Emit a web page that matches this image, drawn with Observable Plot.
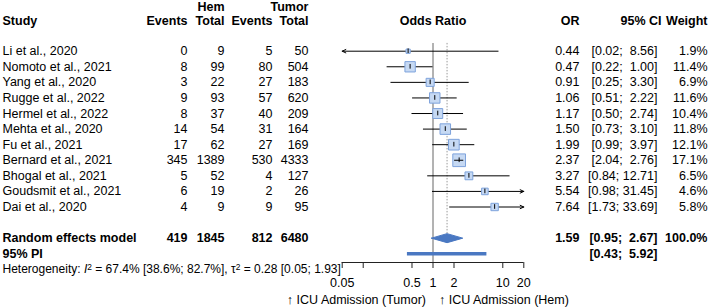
<!DOCTYPE html>
<html><head><meta charset="utf-8">
<script src="https://cdn.jsdelivr.net/npm/d3@7"></script>
<script src="https://cdn.jsdelivr.net/npm/@observablehq/plot@0.6"></script>
<style>body{margin:0;background:#fff}</style>
</head><body><div id="chart"></div>
<script>
// ---------- data ----------
const studies = ["Li et al., 2020","Nomoto et al., 2021","Yang et al., 2020","Rugge et al., 2022","Hermel et al., 2022","Mehta et al., 2020","Fu et al., 2021","Bernard et al., 2021","Bhogal et al., 2021","Goudsmit et al., 2021","Dai et al., 2020"];
const hemEvents = [0,8,3,9,8,14,17,345,5,6,4];
const hemTotal = [9,99,22,93,37,54,62,1389,52,19,9];
const tumorEvents = [5,80,27,57,40,31,27,530,4,2,9];
const tumorTotal = [50,504,183,620,209,164,169,4333,127,26,95];
const oddsRatio = [0.44,0.47,0.91,1.06,1.17,1.50,1.99,2.37,3.27,5.54,7.64];
const ciLower = [0.02,0.22,0.25,0.51,0.50,0.73,0.99,2.04,0.84,0.98,1.73];
const ciUpper = [8.56,1.00,3.30,2.22,2.74,3.10,3.97,2.76,12.71,31.45,33.69];
const weights = [1.9,11.4,6.9,11.6,10.4,11.8,12.1,17.1,6.5,4.6,5.8];

const pooledLabel = "Random effects model";
const pooledCounts = [419,1845,812,6480];
const pooledOR = 1.59, pooledLower = 0.95, pooledUpper = 2.67, pooledWeight = 100.0;
const piLabel = "95% PI";
const piLower = 0.43, piUpper = 5.92;
const hetI2 = [67.4, 38.6, 82.7];
const hetTau2 = [0.28, 0.05, 1.93];

const axisTicks = [0.05,0.1,0.5,1,2,10,20];
const axisTickLabels = ["0.05","","0.5","1","2","10","20"];
const groupHeaders = ["Hem","Tumor"];
const columnHeaders = ["Study","Events","Total","Events","Total","Odds Ratio","OR","95% CI","Weight"];
const favourLabels = ["\u2191 ICU Admission (Tumor)","\u2191 ICU Admission (Hem)"];

// ---------- layout ----------
const W = 708, H = 308;
const ML = 341.7, MR = W - 523.3, MT = 43, MB = 46;
const FS = 12.5;
const FONT = '"Liberation Sans", Arial, Helvetica, sans-serif';
const xMin = axisTicks[0], xMax = axisTicks[axisTicks.length - 1];
const COLX = {study: 2, hemEv: 187, hemTot: 224, tumEv: 272, tumTot: 308, or: 579, ci: 657, ciHead: 661, w: 707};
const dxOf = px => px - ML;
const ROW_TOP = 50.7, ROW_STEP = 15.58;

const rows = studies.map((s, k) => ({
  i: k + 1, study: s, he: hemEvents[k], ht: hemTotal[k], te: tumorEvents[k], tt: tumorTotal[k],
  or: oddsRatio[k], lo: ciLower[k], hi: ciUpper[k], w: weights[k]
}));
const RE_ROW = rows.length + 2, PI_ROW = RE_ROW + 1, HET_ROW = RE_ROW + 2;
const HDR2 = -0.92, HDR1 = -1.85, TICKLAB_ROW = 15.9, FAV_ROW = 16.95;
const AXIS_ROW = 1 + (H - MB - ROW_TOP) / ROW_STEP;   // row coordinate of the axis baseline
const TICK_LEN = 6 / ROW_STEP;

const ciText = (lo, hi) => "[" + lo.toFixed(2) + ";" + (hi < 10 ? "\u00a0\u00a0" : "\u00a0") + hi.toFixed(2) + "]";

const T = (data, opts) => Plot.text(data, {fontSize: FS, fill: "#000", frameAnchor: "left", ...opts});

const pooled = [{i: RE_ROW, label: pooledLabel, he: pooledCounts[0], ht: pooledCounts[1], te: pooledCounts[2], tt: pooledCounts[3],
  or: pooledOR, lo: pooledLower, hi: pooledUpper, w: pooledWeight}];
const pi = [{i: PI_ROW, label: piLabel, lo: piLower, hi: piUpper}];

const DH = 0.29; // diamond half height in rows
const diamond = [
  {x: pooledLower, y: RE_ROW}, {x: pooledOR, y: RE_ROW - DH}, {x: pooledUpper, y: RE_ROW},
  {x: pooledOR, y: RE_ROW + DH}, {x: pooledLower, y: RE_ROW}
];

const inRange = rows.filter(d => d.lo >= xMin && d.hi <= xMax);
const clipLeft = rows.filter(d => d.lo < xMin);
const clipRight = rows.filter(d => d.hi > xMax);
const narrow = rows.filter(d => Math.log10(d.hi / d.lo) < 0.15);
const tickData = axisTicks.map((v, k) => ({v, label: axisTickLabels[k]}));

const BLUE = "#4a78c2";

const plot = Plot.plot({
  width: W, height: H,
  marginLeft: ML, marginRight: MR, marginTop: MT, marginBottom: MB,
  style: {fontFamily: FONT, background: "#fff", overflow: "visible"},
  x: {type: "log", domain: [xMin, xMax], axis: null},
  y: {type: "linear", domain: [1, rows.length], range: [ROW_TOP, ROW_TOP + (rows.length - 1) * ROW_STEP], axis: null},
  r: {type: "sqrt", domain: [0, 100], range: [0, 17.32]},
  marks: [
    // reference lines
    Plot.ruleX([1], {stroke: "#666", strokeWidth: 1}),
    Plot.ruleX([pooledOR], {y1: 0.5, y2: RE_ROW - DH, stroke: "#999", strokeWidth: 1, strokeDasharray: "1.5,1.5"}),
    // CIs
    Plot.ruleY(inRange, {y: "i", x1: "lo", x2: "hi", stroke: "#000", strokeWidth: 1}),
    Plot.arrow(clipLeft, {x1: d => Math.min(d.hi, xMax), x2: xMin, y1: "i", y2: "i", stroke: "#000", strokeWidth: 1, headLength: 6, headAngle: 50}),
    Plot.arrow(clipRight, {x1: d => Math.max(d.lo, xMin), x2: xMax, y1: "i", y2: "i", stroke: "#000", strokeWidth: 1, headLength: 6, headAngle: 50}),
    // squares
    Plot.dot(rows, {x: "or", y: "i", r: "w", symbol: "square", fill: "#c6d9f3", stroke: "#7ea3dc", strokeWidth: 1}),
    Plot.ruleY(narrow, {y: "i", x1: "lo", x2: "hi", stroke: "#000", strokeWidth: 1}),
    Plot.ruleX(rows, {x: "or", y1: d => d.i - 0.15, y2: d => d.i + 0.15, stroke: "#000", strokeWidth: 1}),
    // pooled diamond & prediction interval
    Plot.line(diamond, {x: "x", y: "y", fill: BLUE, stroke: BLUE, strokeWidth: 1}),
    Plot.ruleY(pi, {y: "i", x1: "lo", x2: "hi", stroke: BLUE, strokeWidth: 3.5}),
    // axis: baseline, ticks, labels
    Plot.ruleY([AXIS_ROW], {x1: xMin, x2: xMax, stroke: "#222", strokeWidth: 1}),
    Plot.ruleX(tickData, {x: "v", y1: AXIS_ROW, y2: AXIS_ROW + TICK_LEN, stroke: "#222", strokeWidth: 1}),
    Plot.text(tickData, {x: "v", y: () => TICKLAB_ROW, text: "label", fontSize: FS, fill: "#000"}),
    Plot.text([favourLabels[0]], {x: () => 1, y: () => FAV_ROW, dx: -7, textAnchor: "end", fontSize: FS, fill: "#000"}),
    Plot.text([favourLabels[1]], {x: () => 1, y: () => FAV_ROW, dx: 6, textAnchor: "start", fontSize: FS, fill: "#000"}),
    // headers
    T([groupHeaders[0]], {y: () => HDR1, dx: dxOf(COLX.hemTot), textAnchor: "end", fontWeight: "bold"}),
    T([groupHeaders[1]], {y: () => HDR1, dx: dxOf(COLX.tumTot), textAnchor: "end", fontWeight: "bold"}),
    T([columnHeaders[0]], {y: () => HDR2, dx: dxOf(COLX.study), textAnchor: "start", fontWeight: "bold"}),
    T([columnHeaders[1]], {y: () => HDR2, dx: dxOf(COLX.hemEv), textAnchor: "end", fontWeight: "bold"}),
    T([columnHeaders[2]], {y: () => HDR2, dx: dxOf(COLX.hemTot), textAnchor: "end", fontWeight: "bold"}),
    T([columnHeaders[3]], {y: () => HDR2, dx: dxOf(COLX.tumEv), textAnchor: "end", fontWeight: "bold"}),
    T([columnHeaders[4]], {y: () => HDR2, dx: dxOf(COLX.tumTot), textAnchor: "end", fontWeight: "bold"}),
    Plot.text([columnHeaders[5]], {y: () => HDR2, frameAnchor: "middle", textAnchor: "middle", fontWeight: "bold", fontSize: FS, fill: "#000"}),
    T([columnHeaders[6]], {y: () => HDR2, dx: dxOf(COLX.or), textAnchor: "end", fontWeight: "bold"}),
    T([columnHeaders[7]], {y: () => HDR2, dx: dxOf(COLX.ciHead), textAnchor: "end", fontWeight: "bold"}),
    T([columnHeaders[8]], {y: () => HDR2, dx: dxOf(COLX.w), textAnchor: "end", fontWeight: "bold"}),
    // study rows
    T(rows, {y: "i", text: "study", dx: dxOf(COLX.study), textAnchor: "start"}),
    T(rows, {y: "i", text: d => String(d.he), dx: dxOf(COLX.hemEv), textAnchor: "end"}),
    T(rows, {y: "i", text: d => String(d.ht), dx: dxOf(COLX.hemTot), textAnchor: "end"}),
    T(rows, {y: "i", text: d => String(d.te), dx: dxOf(COLX.tumEv), textAnchor: "end"}),
    T(rows, {y: "i", text: d => String(d.tt), dx: dxOf(COLX.tumTot), textAnchor: "end"}),
    T(rows, {y: "i", text: d => d.or.toFixed(2), dx: dxOf(COLX.or), textAnchor: "end"}),
    T(rows, {y: "i", text: d => ciText(d.lo, d.hi), dx: dxOf(COLX.ci), textAnchor: "end"}),
    T(rows, {y: "i", text: d => d.w.toFixed(1) + "%", dx: dxOf(COLX.w), textAnchor: "end"}),
    // pooled row
    T(pooled, {y: "i", text: "label", dx: dxOf(COLX.study), textAnchor: "start", fontWeight: "bold"}),
    T(pooled, {y: "i", text: d => String(d.he), dx: dxOf(COLX.hemEv), textAnchor: "end", fontWeight: "bold"}),
    T(pooled, {y: "i", text: d => String(d.ht), dx: dxOf(COLX.hemTot), textAnchor: "end", fontWeight: "bold"}),
    T(pooled, {y: "i", text: d => String(d.te), dx: dxOf(COLX.tumEv), textAnchor: "end", fontWeight: "bold"}),
    T(pooled, {y: "i", text: d => String(d.tt), dx: dxOf(COLX.tumTot), textAnchor: "end", fontWeight: "bold"}),
    T(pooled, {y: "i", text: d => d.or.toFixed(2), dx: dxOf(COLX.or), textAnchor: "end", fontWeight: "bold"}),
    T(pooled, {y: "i", text: d => ciText(d.lo, d.hi), dx: dxOf(COLX.ci), textAnchor: "end", fontWeight: "bold"}),
    T(pooled, {y: "i", text: d => d.w.toFixed(1) + "%", dx: dxOf(COLX.w), textAnchor: "end", fontWeight: "bold"}),
    // prediction interval row
    T(pi, {y: "i", text: "label", dx: dxOf(COLX.study), textAnchor: "start", fontWeight: "bold"}),
    T(pi, {y: "i", text: d => ciText(d.lo, d.hi), dx: dxOf(COLX.ci), textAnchor: "end", fontWeight: "bold"}),
    // heterogeneity
    T(["het"], {y: () => HET_ROW, dx: dxOf(COLX.study), textAnchor: "start", fontSize: 12,
      text: () => `Heterogeneity: I\u00b2 = ${hetI2[0].toFixed(1)}% [${hetI2[1].toFixed(1)}%; ${hetI2[2].toFixed(1)}%], \u03c4\u00b2 = ${hetTau2[0].toFixed(2)} [${hetTau2[1].toFixed(2)}; ${hetTau2[2].toFixed(2)}]`})
  ]
});
document.getElementById("chart").appendChild(plot);

// rich text for heterogeneity line (italic I, superscripts)
d3.select(plot).selectAll("text").filter(function() { return this.textContent.startsWith("Heterogeneity"); })
  .each(function() {
    const t = d3.select(this);
    t.text(null);
    const parts = [
      ["Heterogeneity: ", {}], ["I", {style: "italic"}], ["2", {sup: true}],
      [` = ${hetI2[0].toFixed(1)}% [${hetI2[1].toFixed(1)}%; ${hetI2[2].toFixed(1)}%], `, {}],
      ["\u03c4", {}], ["2", {sup: true}],
      [` = ${hetTau2[0].toFixed(2)} [${hetTau2[1].toFixed(2)}; ${hetTau2[2].toFixed(2)}]`, {}]
    ];
    let prevSup = false;
    for (const [s, o] of parts) {
      const ts = t.append("tspan").text(s);
      if (o.style) ts.attr("font-style", o.style);
      if (o.sup) { ts.attr("dy", "-0.4em").attr("font-size", "0.7em"); prevSup = true; }
      else if (prevSup) { ts.attr("dy", "0.28em"); prevSup = false; }
    }
  });
</script>
</body></html>
